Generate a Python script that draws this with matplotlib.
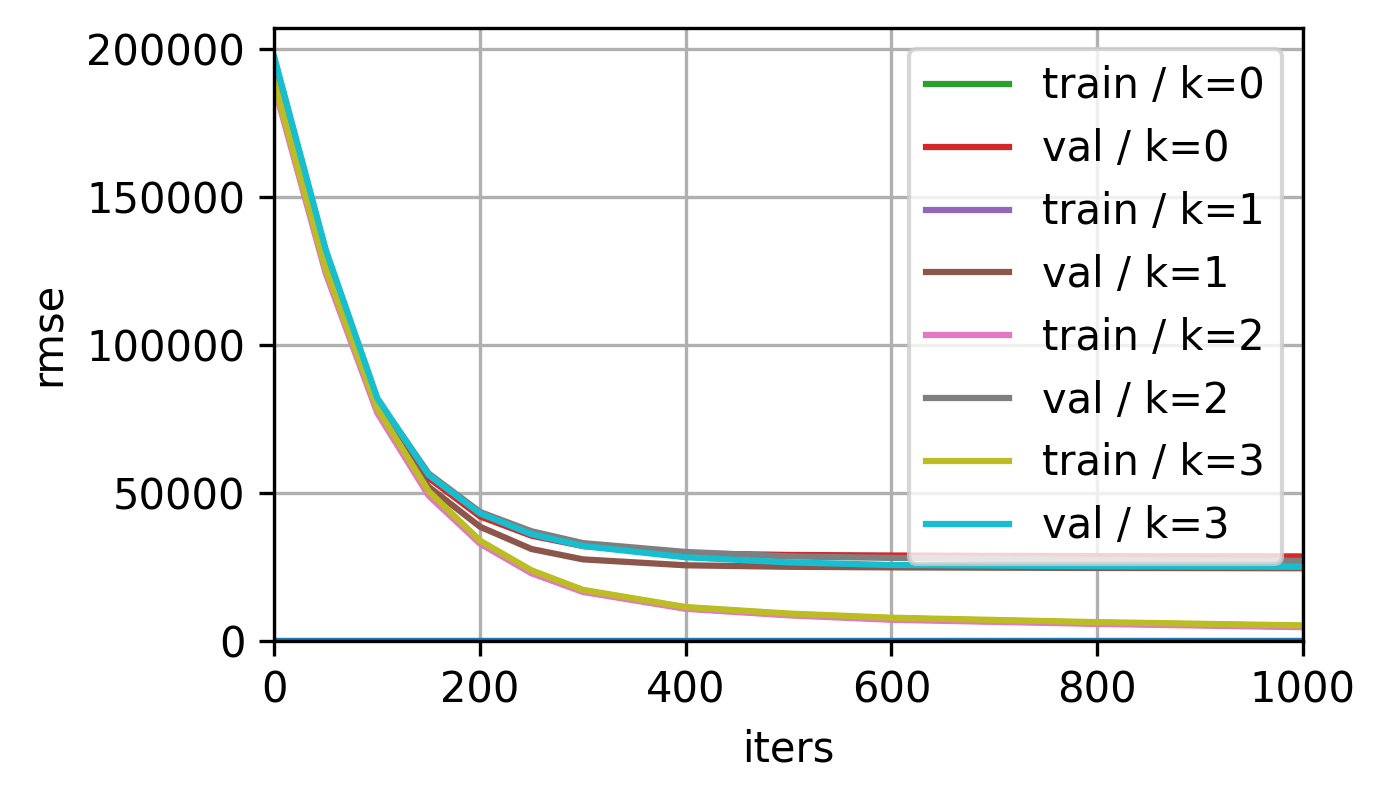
import matplotlib
matplotlib.use("Agg")
import matplotlib.pyplot as plt

iters = [0, 50, 100, 150, 200, 250, 300, 400, 500, 600, 800, 1000]

train_k0 = [188000, 125000, 78000, 50000, 33500, 23500, 17000, 11200, 9000, 7600, 6100, 5000]
train_k1 = [188000, 124500, 77500, 49500, 33000, 23000, 16700, 11000, 8800, 7300, 5900, 4800]
train_k2 = [187000, 124000, 77000, 49000, 32800, 22800, 16500, 10800, 8600, 7100, 5700, 4600]
train_k3 = [188500, 125500, 78500, 50500, 33800, 23800, 17200, 11400, 9200, 7800, 6300, 5200]
val_k0 = [195000, 130000, 80000, 55000, 42000, 35500, 32000, 29500, 29000, 28800, 28600, 28500]
val_k1 = [190000, 126000, 78000, 52000, 38500, 31000, 27500, 25500, 25000, 24800, 24600, 24500]
val_k2 = [195000, 131000, 81500, 56500, 43500, 37000, 33000, 30000, 28500, 28000, 27300, 27000]
val_k3 = [197000, 132000, 82000, 56000, 43000, 36000, 32000, 28200, 26500, 25600, 25200, 25000]
baseline = [0] * len(iters)

fig, ax = plt.subplots(figsize=(4.62, 2.66), dpi=300)
ax.plot(iters, baseline, color="C1")
ax.plot(iters, baseline, color="C0")
series = [
    (train_k0, "train / k=0", "C2"), (val_k0, "val / k=0", "C3"),
    (train_k1, "train / k=1", "C4"), (val_k1, "val / k=1", "C5"),
    (train_k2, "train / k=2", "C6"), (val_k2, "val / k=2", "C7"),
    (train_k3, "train / k=3", "C8"), (val_k3, "val / k=3", "C9"),
]
for vals, label, c in series:
    ax.plot(iters, vals, color=c, label=label)

ax.set_xlim(0, 1000)
ax.set_ylim(0, 207000)
ax.set_xlabel("iters")
ax.set_ylabel("rmse")
ax.grid(True)
ax.legend(loc="upper right")
fig.subplots_adjust(left=0.198, right=0.94, top=0.965, bottom=0.197)
fig.savefig("out.png", dpi=300)
